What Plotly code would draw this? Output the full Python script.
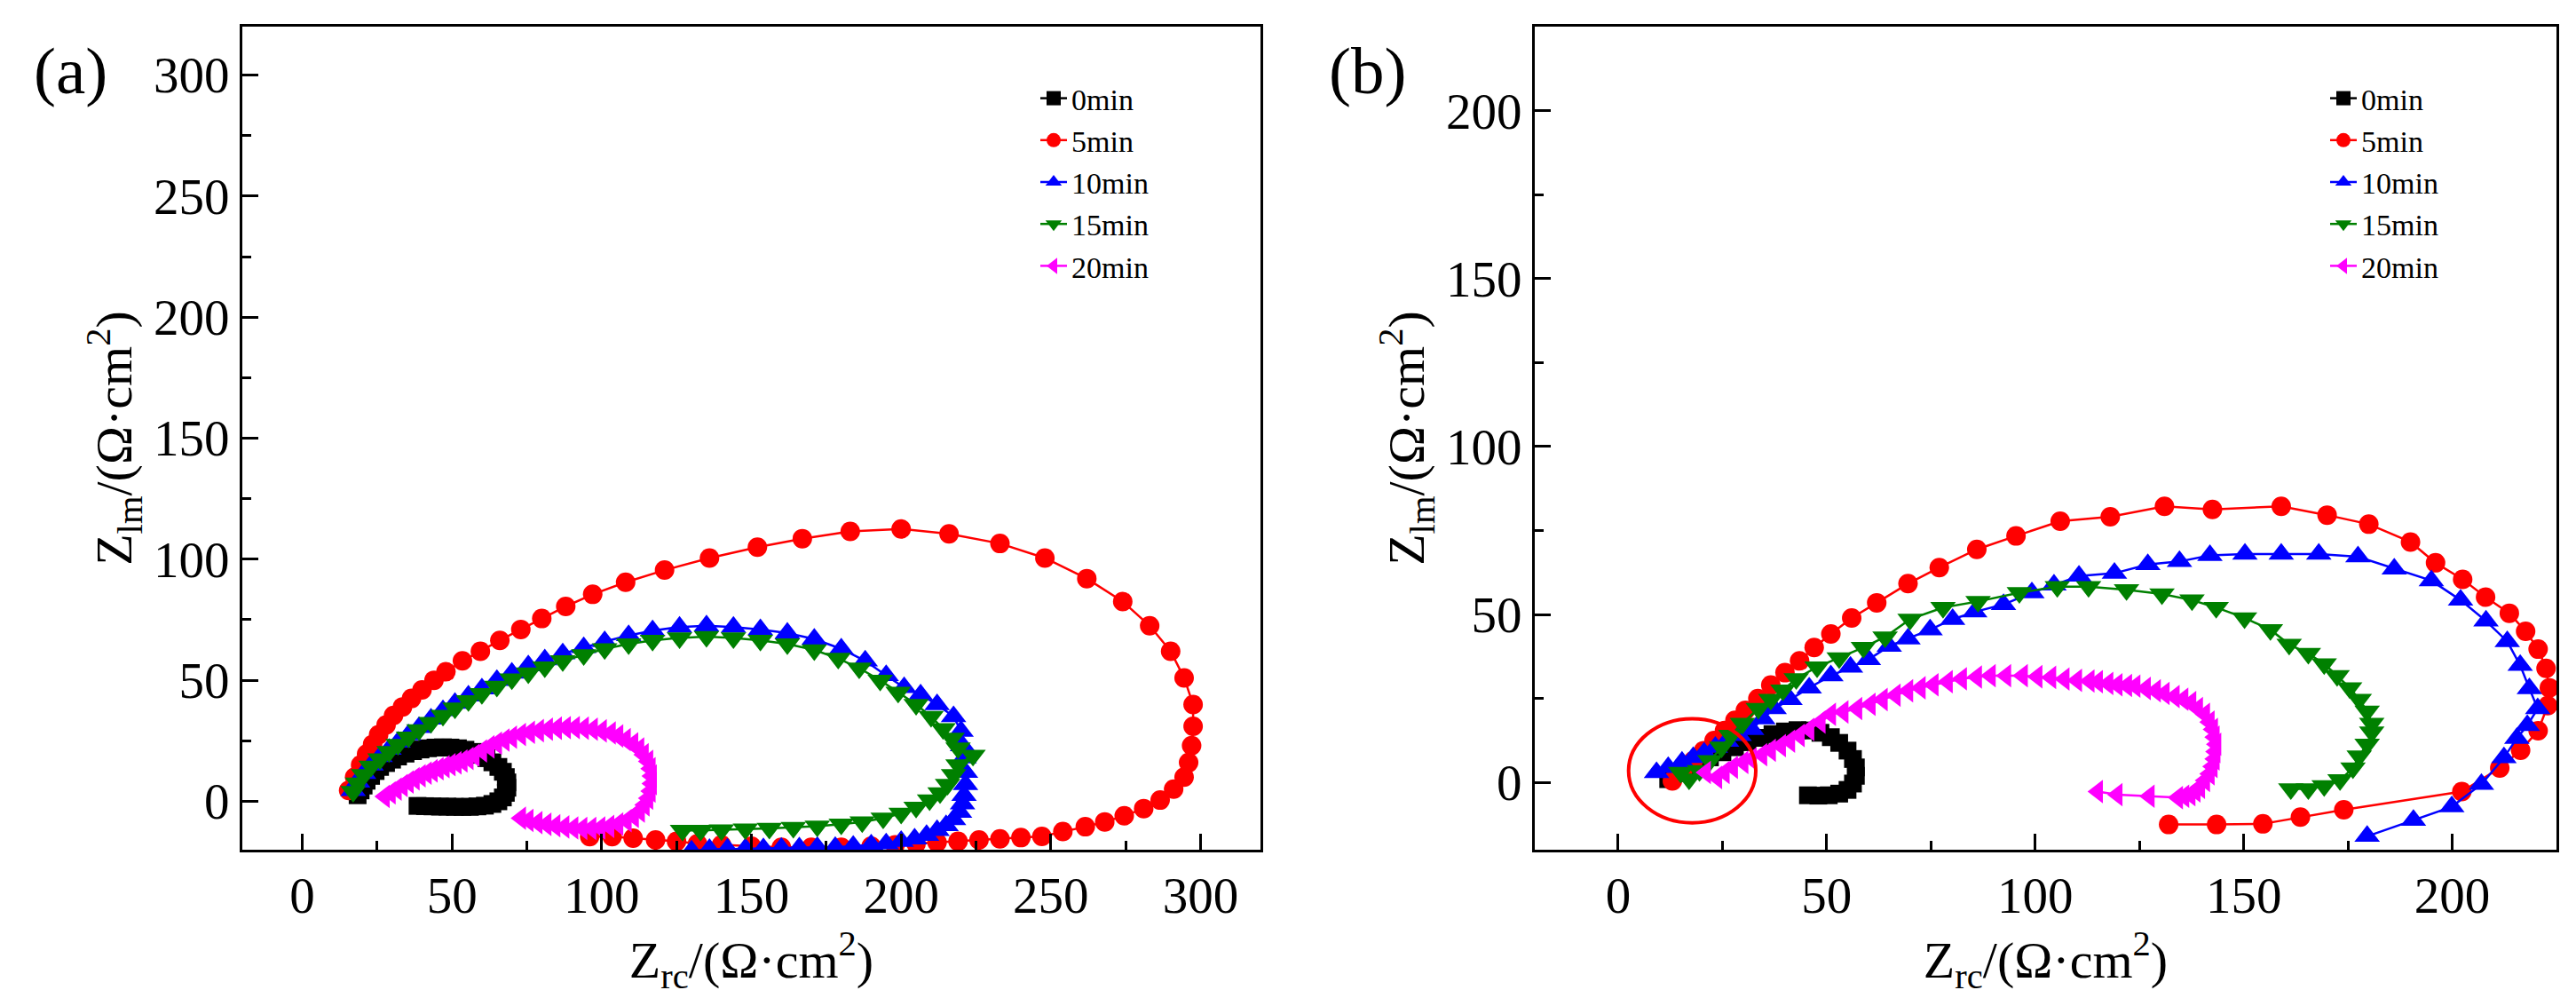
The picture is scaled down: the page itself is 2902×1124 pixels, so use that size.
import plotly.graph_objects as go

labels = ["0min", "5min", "10min", "15min", "20min"]

# panel (a): Nyquist data, Z_re and Z_im in ohm*cm2
a_0min_x = [18.5, 19.5, 20.5, 21.5, 23, 24.5, 26, 28, 30, 32, 34.5, 37, 39.5, 42, 44.5, 47, 49.5, 52, 54.5, 57,
            59.5, 61.5, 63.5, 65.5, 67, 68, 68.5, 68.5, 68, 67, 65.5, 63.5, 61, 58.5, 56, 53.5, 51, 48.5, 46, 43.5,
            41, 38.5]
a_0min_y = [2.5, 4.5, 6.5, 8.5, 10.5, 12.5, 14.2, 15.8, 17.2, 18.5, 19.7, 20.7, 21.4, 21.9, 22.2, 22.3, 22.2, 21.9,
            21.3, 20.4, 19.2, 17.8, 16.1, 14.2, 12.2, 10, 7.8, 5.6, 3.5, 1.6, 0, -1.1, -1.8, -2.1, -2.3, -2.3, -2.3,
            -2.2, -2.2, -2.1, -2, -1.9]

a_5min_x = [15.5, 17.5, 19.5, 21.5, 23.5, 25.5, 28, 30.5, 33.5, 36.5, 40, 44, 48, 53.5, 59.5, 66, 73, 80, 88, 97,
            108, 121, 136, 152, 167, 183, 200, 216, 233, 248, 262, 274, 283, 290, 294.5, 297.5, 297.5, 297, 296,
            294.5, 291, 286.5, 281, 274.5, 268, 261.5, 254, 247, 240, 233, 226, 219, 212, 205, 198, 190, 180, 170,
            160, 150, 140, 132, 125, 118, 110.5, 103.5, 96]
a_5min_y = [4.5, 10, 15, 19.5, 23.5, 27.5, 31.5, 35.5, 39, 42.5, 46, 50, 53.5, 58, 62, 66.5, 71, 75.5, 80.5, 85.5,
            90.5, 95.5, 100.5, 105, 108.5, 111.5, 112.5, 110.5, 106.5, 100.5, 92, 82.5, 72.5, 62, 51, 40, 31, 23,
            16, 10, 5, 0.5, -3, -6, -8.5, -10.5, -12.5, -14.5, -15, -15.5, -16, -16.5, -17, -17.5, -18, -18.5,
            -19, -19, -19, -18.5, -18, -17.5, -16.5, -16, -15.2, -14.6, -14.6]

a_10min_x = [17, 18.5, 20.5, 23, 26, 29, 32, 35.5, 39, 43, 47, 51, 55.5, 60, 65, 70, 75.5, 81, 87, 94, 101, 109,
             117, 126, 135, 144, 153, 162, 171, 180, 188, 195, 201, 206.5, 212, 217.5, 220, 220.5, 221, 221.5,
             221.5, 221, 220.5, 219.5, 217.5, 215, 212, 208.5, 204.5, 200, 195, 190, 184, 178, 172, 166, 160, 154,
             148, 142, 136, 130]
a_10min_y = [4.5, 8, 11.5, 15, 18.5, 21.5, 24.5, 27.5, 30.5, 34, 37.5, 40.5, 43.5, 46.5, 50, 53, 56, 58.5, 61, 63.5,
             66, 68.5, 70.5, 72, 72.5, 72, 71, 69.5, 67, 63, 58, 52, 47, 44, 40, 35, 29, 23, 18, 12, 7, 2.5, -1,
             -4.5, -7.5, -10, -12, -14, -15.5, -16.5, -17.5, -18, -18.5, -19, -19, -19.2, -19.4, -19.5, -19.6,
             -19.7, -19.8, -20.5]

a_15min_x = [17, 18.5, 20.5, 23, 26, 29, 32, 35.5, 39, 43, 47, 51, 55.5, 60, 65, 70, 75.5, 81, 87, 94, 101, 109,
             117, 126, 135, 144, 153, 162, 171, 179, 186, 193, 199, 205, 210, 214, 217, 219, 224, 219, 217.5,
             215.5, 213, 209.5, 205, 200, 194, 187, 180, 172, 164, 156, 148, 140, 133, 127]
a_15min_y = [4, 7.5, 11, 14.5, 17.5, 20.5, 23.5, 26.5, 29.5, 32.5, 35.5, 38.5, 41.5, 44.5, 47.5, 50.5, 53, 55.5,
             58, 60.5, 63, 65, 66.5, 67.5, 68, 67.5, 66.5, 65, 62.5, 59, 55, 50, 45, 40, 35, 30, 26, 22, 19, 15, 11,
             7, 3.5, 0.5, -2.5, -5, -7, -8.5, -9.5, -10.3, -10.8, -11.2, -11.5, -11.8, -12, -12]

a_20min_x = [27.5, 29.5, 31.5, 33.5, 35.5, 37.5, 39.5, 41.5, 43.5, 45.5, 47.5, 49.5, 51.5, 53.5, 55.5, 57.5, 60,
             62.5, 65, 67.5, 70, 73, 76, 79, 82, 85, 88, 91, 94, 97, 100, 103, 105.5, 108, 110.5, 112.5, 114,
             115.5, 116.3, 116.7, 116.7, 116.3, 115.5, 114.3, 112.7, 110.7, 108.3, 105.5, 102.5, 99.5, 96.5, 93.5,
             90.5, 87.5, 84.5, 81.5, 78.5, 75.5, 73]
a_20min_y = [2, 3.5, 5, 6.5, 8, 9.3, 10.5, 11.6, 12.6, 13.5, 14.3, 15.1, 15.9, 16.7, 17.7, 19, 20.8, 22.5, 24, 25.3,
             26.5, 27.6, 28.5, 29.2, 29.8, 30.2, 30.4, 30.4, 30.2, 29.8, 29.1, 28.2, 27, 25.5, 23.7, 21.6, 19.2,
             16.5, 13.5, 10.4, 7.3, 4.2, 1.3, -1.5, -4, -6.2, -8, -9.4, -10.4, -11, -11.2, -11.2, -11, -10.6, -10.1,
             -9.5, -8.8, -7.9, -7]

# panel (b)
b_0min_x = [12, 14, 16.5, 19, 22, 25, 28, 31, 34, 37, 40, 43, 46, 48.5, 51, 53, 55, 56.3, 57, 57, 56.3, 55, 53,
            50.5, 48, 45.5]
b_0min_y = [1, 2.8, 4.5, 6, 7.5, 9, 10.5, 12, 13.3, 14.4, 15.2, 15.6, 15.5, 14.8, 13.5, 11.8, 9.5, 7, 4.5, 2, -0.3,
            -2.2, -3.3, -3.8, -3.9, -3.8]

b_5min_x = [13, 15.5, 18, 20.5, 23, 25.5, 28, 30.5, 33.5, 36.6, 40, 43.5, 47, 51, 56, 62, 69.5, 77, 86, 95.4, 106,
            118, 131, 142.5, 159, 170, 180, 190, 196, 202.5, 208, 213.7, 217.6, 220.6, 222.5, 223.3, 222.9, 220.6,
            216.4, 211.4, 202.3, 174, 163.6, 154.6, 143.5, 132]
b_5min_y = [0.5, 3.5, 6.5, 9.5, 12.5, 15.5, 18.5, 21.5, 25, 29, 32.7, 36.2, 40.2, 44.2, 49, 53.5, 59.2, 64, 69.4,
            73.4, 77.8, 79.1, 82.2, 81.3, 82.2, 79.6, 76.9, 71.6, 65.4, 60.5, 55.2, 50.4, 45, 39.7, 34, 28.2, 22.9,
            15.4, 9.6, 4.3, -2.7, -8.1, -10.3, -12.3, -12.5, -12.5]

b_10min_x = [9.2, 12, 15.3, 18, 20.6, 23.3, 26, 29, 32, 34.7, 37.4, 41.2, 45.8, 51, 55.7, 60, 65, 69.5, 74.8, 80.2,
             85.5, 92.4, 99.2, 104.5, 110.5, 119, 127, 134.6, 141.9, 150.3, 159, 168, 177.4, 186.1, 195, 202,
             208.1, 213.2, 216.3, 218.5, 220.5, 218, 215.5, 212.4, 207, 199.9, 190.7, 179.6]
b_10min_y = [3, 4.5, 6.1, 7.5, 8.8, 10.5, 12.3, 14, 15.8, 19, 22, 24.7, 28.2, 31.8, 34.4, 36.6, 40.6, 42.8, 45.5,
             48.6, 50.8, 53, 56.5, 58.8, 61.5, 62.3, 64.9, 65.8, 67.6, 68, 68, 68, 67.2, 63.6, 60.1, 54.3, 48.1, 42,
             34.9, 28, 22, 17, 13.2, 7.4, -0.5, -7.2, -11.2, -16]

b_15min_x = [15, 17, 19.5, 22, 24.8, 27, 29.8, 33.6, 36.6, 39.5, 42.7, 47.7, 53, 58.8, 64, 70, 77.9, 86.3, 96.2,
             105.3, 112.8, 121.9, 130.4, 137.6, 143.4, 150.2, 156.4, 160.9, 165.5, 169.3, 172.4, 175.4, 177.7,
             179.6, 180.7, 180.7, 179.6, 177.7, 176.2, 173.1, 169.3, 165.5, 161.3]
b_15min_y = [3, 1, 3.5, 6.5, 10.5, 14, 17.6, 22, 24.7, 27.5, 30.9, 34.4, 37.1, 40.2, 43.3, 48.6, 52.1, 53.9, 56.5,
             58.3, 58.3, 57.4, 56.1, 54.3, 52.1, 49, 45.5, 41.1, 38.4, 35.3, 31.8, 28.2, 24.7, 21.2, 17.6, 15, 11.4,
             7.9, 4.3, 0.8, -1, -1.9, -1.9]

b_20min_x = [21, 23.7, 25.5, 27.5, 30, 32, 34.5, 36.6, 39, 41.2, 43.5, 45.8, 48.5, 51, 54, 57.3, 60.5, 63.4, 66.5,
             69.5, 72.5, 75.6, 79, 82.4, 86, 89.3, 93, 97, 100.5, 103.8, 107, 110, 113, 115, 117.5, 119.7, 122, 124,
             126.5, 128.9, 131, 133.4, 135.5, 137.4, 139, 140.7, 141.8, 142.6, 143, 143.4, 143.2, 143, 142.5, 141.8,
             140.7, 139.5, 138.4, 137.2, 135.7, 134.2, 127.4, 119.7, 115]
b_20min_y = [3, 1.5, 3, 4.5, 6, 7, 8.3, 9.6, 11, 12.3, 14, 15.8, 18, 20.3, 21, 22, 23.3, 24.7, 26, 27.3, 28.2, 29.1,
             30, 30.9, 31.4, 31.8, 31.8, 31.8, 31.5, 31.3, 30.8, 30.4, 30.2, 30, 29.5, 29.1, 28.9, 28.7, 28, 27.3,
             26.5, 25.6, 24.8, 23.8, 22, 20.3, 18, 15.8, 13.5, 11.4, 9.2, 7, 4.8, 2.6, 0.6, -1.4, -2.5, -3.6, -4.1,
             -4.5, -4.1, -3.6, -2.7]

panel_a = [(a_0min_x, a_0min_y), (a_5min_x, a_5min_y), (a_10min_x, a_10min_y),
           (a_15min_x, a_15min_y), (a_20min_x, a_20min_y)]
panel_b = [(b_0min_x, b_0min_y), (b_5min_x, b_5min_y), (b_10min_x, b_10min_y),
           (b_15min_x, b_15min_y), (b_20min_x, b_20min_y)]

colors = ["#000000", "#FF0000", "#0000FF", "#008000", "#FF00FF"]
symbols = ["square", "circle", "triangle-up", "triangle-down", "triangle-left"]
sizes = [20, 22, 25, 25, 23]

FONT = "Liberation Serif"
W, H = 2902, 1124

fig = go.Figure()

for (xs, ys), name, c, s, sz in zip(panel_a, labels, colors, symbols, sizes):
    fig.add_trace(go.Scatter(
        x=xs, y=ys, name=name, mode="lines+markers", xaxis="x", yaxis="y", legend="legend",
        line={'color': c, 'width': 2.5},
        marker={'symbol': s, 'size': sz, 'color': c}))

for (xs, ys), name, c, s, sz in zip(panel_b, labels, colors, symbols, sizes):
    fig.add_trace(go.Scatter(
        x=xs, y=ys, name=name, mode="lines+markers", xaxis="x2", yaxis="y2", legend="legend2",
        line={'color': c, 'width': 2.5},
        marker={'symbol': s, 'size': sz, 'color': c}))


def axis(domain, rng, anchor, title):
    return {
        'domain': domain, 'range': rng, 'anchor': anchor,
        'showgrid': False, 'zeroline': False,
        'showline': True, 'mirror': True, 'linecolor': 'black', 'linewidth': 3,
        'ticks': 'inside', 'ticklen': 18, 'tickwidth': 3, 'tickcolor': 'black',
        'dtick': 50, 'tick0': 0,
        'minor': {'ticks': 'inside', 'ticklen': 10, 'tickwidth': 3, 'tickcolor': 'black', 'dtick': 25},
        'tickfont': {'family': FONT, 'size': 57, 'color': 'black'},
        'title': {'text': title, 'font': {'family': FONT, 'size': 58, 'color': 'black'}, 'standoff': 6},
    }


x_title = "Z<sub>rc</sub>/(Ω·cm<sup>2</sup>)"
y_title = "Z<sub>lm</sub>/(Ω·cm<sup>2</sup>)"
y_dom = [1 - 957 / H, 1 - 30 / H]

legend_style = {'font': {'family': FONT, 'size': 34, 'color': 'black'},
                'bgcolor': 'rgba(0,0,0,0)', 'borderwidth': 0,
                'xanchor': 'left', 'yanchor': 'top', 'y': 1 - 82 / H, 'tracegroupgap': 0}

label_font = {'family': FONT, 'size': 75, 'color': 'black'}

fig.update_layout(
    width=W, height=H,
    margin={'l': 0, 't': 0, 'b': 0, 'r': 0},
    paper_bgcolor='white', plot_bgcolor='white',
    xaxis=axis([273 / W, 1420 / W], [-20, 320], 'y', x_title),
    yaxis=axis(y_dom, [-20, 320], 'x', y_title),
    xaxis2=axis([1729 / W, 2880 / W], [-20, 225], 'y2', x_title),
    yaxis2=axis(y_dom, [-20, 225], 'x2', y_title),
    legend={**legend_style, 'x': (1212 - 45) / W},
    legend2={**legend_style, 'x': (2665 - 45) / W},
    annotations=[
        {'text': "(a)", 'x': 79 / W, 'y': 1 - 80 / H, 'xref': 'paper', 'yref': 'paper',
         'xanchor': 'center', 'yanchor': 'middle', 'showarrow': False, 'font': label_font},
        {'text': "(b)", 'x': 1540 / W, 'y': 1 - 80 / H, 'xref': 'paper', 'yref': 'paper',
         'xanchor': 'center', 'yanchor': 'middle', 'showarrow': False, 'font': label_font},
    ],
    shapes=[
        {'type': 'circle', 'xref': 'x2', 'yref': 'y2', 'x0': 2.5, 'x1': 33, 'y0': -12, 'y1': 19,
         'line': {'color': '#FF0000', 'width': 4}},
    ],
)

fig.write_html("out.html", config={'displayModeBar': False},
               post_script="document.body.style.margin = '0';")
